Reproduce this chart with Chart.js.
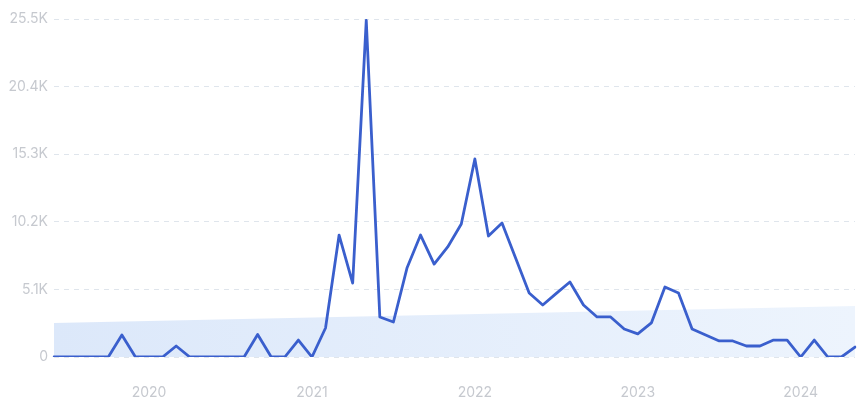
<!DOCTYPE html>
<html>
<head>
<meta charset="utf-8">
<script src="https://cdn.jsdelivr.net/npm/chart.js@4"></script>
<style>
html,body{margin:0;padding:0;background:#fff;}
#wrap{width:862px;height:399px;}
</style>
</head>
<body>
<div id="wrap"><canvas id="c" width="862" height="399"></canvas></div>
<script>
const months = [
  "Jun 2019","Jul 2019","Aug 2019","Sep 2019","Oct 2019","Nov 2019","Dec 2019",
  "Jan 2020","Feb 2020","Mar 2020","Apr 2020","May 2020","Jun 2020","Jul 2020","Aug 2020","Sep 2020","Oct 2020","Nov 2020","Dec 2020",
  "Jan 2021","Feb 2021","Mar 2021","Apr 2021","May 2021","Jun 2021","Jul 2021","Aug 2021","Sep 2021","Oct 2021","Nov 2021","Dec 2021",
  "Jan 2022","Feb 2022","Mar 2022","Apr 2022","May 2022","Jun 2022","Jul 2022","Aug 2022","Sep 2022","Oct 2022","Nov 2022","Dec 2022",
  "Jan 2023","Feb 2023","Mar 2023","Apr 2023","May 2023","Jun 2023","Jul 2023","Aug 2023","Sep 2023","Oct 2023","Nov 2023","Dec 2023",
  "Jan 2024","Feb 2024","Mar 2024","Apr 2024","May 2024"
];
const volumes = [
  0,0,0,0,0,1660,0,
  0,0,830,0,0,0,0,0,1700,0,0,1280,
  0,2190,9200,5580,25400,3020,2640,6710,9200,7010,8300,10030,
  14940,9130,10110,7470,4830,3920,4800,5660,3920,3020,3020,2110,
  1740,2570,5280,4830,2110,1660,1210,1210,830,830,1280,1280,
  0,1280,0,0,750
];
const trendStart = 2565;
const trendEnd = 3850;
const yTicks = [0,5100,10200,15300,20400,25500];
const yTickLabels = ["0","5.1K","10.2K","15.3K","20.4K","25.5K"];

const trendData = [
  {x: months[0], y: trendStart},
  {x: months[months.length-1], y: trendEnd}
];

function fillGradient(ctx){
  const ca = ctx.chart.chartArea;
  if(!ca) return 'rgba(221,233,251,1)';
  const g = ctx.chart.ctx.createLinearGradient(ca.left,0,ca.right,0);
  g.addColorStop(0,'#dce8fa');
  g.addColorStop(1,'#edf4fd');
  return g;
}

new Chart(document.getElementById('c'), {
  type: 'line',
  data: {
    labels: months,
    datasets: [
      {
        data: volumes,
        borderColor: '#3a5fcd',
        borderWidth: 2.8,
        pointRadius: 0,
        tension: 0,
        fill: false,
        borderJoinStyle: 'round',
        borderCapStyle: 'round'
      },
      {
        data: trendData,
        borderColor: 'rgba(0,0,0,0)',
        borderWidth: 0,
        pointRadius: 0,
        tension: 0,
        fill: 'origin',
        backgroundColor: fillGradient
      }
    ]
  },
  options: {
    responsive: false,
    animation: false,
    devicePixelRatio: 1,
    layout: {padding: {top: 19, right: 7, left: 0, bottom: 0}},
    plugins: {legend: {display: false}, tooltip: {enabled: false}},
    scales: {
      x: {
        type: 'category',
        offset: false,
        grid: {display: false, drawTicks: false},
        border: {display: false},
        ticks: {
          autoSkip: false,
          maxRotation: 0,
          padding: 27,
          color: '#c6c9cf',
          font: {family: 'Inter', size: 14},
          callback: function(v){
            const l = months[v];
            return l.startsWith('Jan') ? l.slice(4) : null;
          }
        },
        afterFit: s => { s.height = 42; }
      },
      y: {
        min: 0,
        max: 25500,
        afterBuildTicks: s => { s.ticks = yTicks.map(v => ({value: v})); },
        grid: {color: '#dfe5ec', lineWidth: 1, drawTicks: false},
        border: {display: false, dash: [5,5]},
        ticks: {
          padding: 6,
          color: '#c6c9cf',
          font: {family: 'Inter', size: 14},
          callback: function(v){ const i = yTicks.indexOf(v); return i >= 0 ? yTickLabels[i] : ''; }
        },
        afterFit: s => { s.width = 54; }
      }
    }
  }
});
</script>
</body>
</html>
